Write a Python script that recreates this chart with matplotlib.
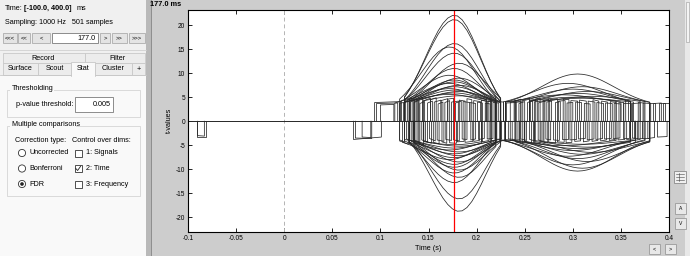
import numpy as np
import matplotlib
matplotlib.use("Agg")
import matplotlib.pyplot as plt
from matplotlib.patches import Rectangle, Circle

plt.rcParams.update({"font.family": ["Liberation Sans", "DejaVu Sans"],
                     "axes.unicode_minus": False})

# ---------------- data ----------------
cursor_time = 0.177  # s (red line)

# time course of the first component (normalized), 5 ms steps 0.110 -> 0.240 s
t1 = np.arange(110, 245, 5) / 1000.0
tmpl1 = [0.083, 0.118, 0.164, 0.223, 0.293, 0.375, 0.467, 0.566, 0.667, 0.764,
         0.852, 0.923, 0.973, 0.998, 0.994, 0.957, 0.891, 0.801, 0.696, 0.584,
         0.474, 0.371, 0.281, 0.206, 0.146, 0.100, 0.066]

# time course of the second component (normalized), 5 ms steps 0.220 -> 0.400 s
t2 = np.arange(220, 405, 5) / 1000.0
tmpl2 = [0.082, 0.109, 0.143, 0.183, 0.232, 0.287, 0.351, 0.421, 0.496, 0.575,
         0.654, 0.732, 0.806, 0.871, 0.925, 0.966, 0.991, 1.000, 0.991, 0.966,
         0.925, 0.871, 0.806, 0.732, 0.654, 0.575, 0.496, 0.421, 0.351, 0.287,
         0.232, 0.183, 0.143, 0.109, 0.082, 0.060, 0.044]

# channels of the first cluster: peak t-value, pedestal, threshold, lag (in 5 ms steps)
c1_pos_peak = [22.1, 21.2, 16.2, 15.5, 14.2, 12.1, 11.0, 9.6, 9.0, 8.6,
               8.2, 7.9, 7.5, 7.2, 6.8, 6.5, 6.2, 5.9, 5.6, 5.3]
c1_pos_ped = [0.0, 0.5, 1.0, 1.5, 1.5, 2.0, 2.0, 2.5, 2.5, 2.5,
              3.0, 3.0, 3.0, 3.0, 3.2, 3.2, 3.3, 3.3, 3.4, 3.4]
c1_pos_thr = [4.0, 4.2, 3.8, 4.5, 4.0, 4.3, 3.7, 4.1, 4.4, 3.9,
              4.2, 3.8, 4.5, 4.0, 4.3, 3.7, 4.1, 4.4, 3.9, 4.2]
c1_pos_lag = [0, 0, 0, -1, 0, 1, 0, -1, 1, 0, 0, -1, 1, 0, -1, 0, 1, 0, -1, 1]

c1_neg_peak = [-18.8, -16.2, -12.8, -11.7, -10.8, -10.2, -9.6, -9.0, -8.5,
               -8.0, -7.6, -7.2, -6.8, -6.4, -6.0, -5.6, -5.2, -4.9]
c1_neg_ped = [0.0, 0.5, 1.0, 1.5, 2.0, 2.0, 2.5, 2.5, 2.5,
              3.0, 3.0, 3.0, 3.0, 3.2, 3.2, 3.3, 3.3, 3.4]
c1_neg_thr = [4.0, 4.3, 3.8, 4.4, 4.0, 4.2, 3.7, 4.1, 4.5,
              3.9, 4.2, 3.8, 4.4, 4.0, 4.3, 3.7, 4.1, 4.2]
c1_neg_lag = [1, 1, 0, 1, 0, 1, 0, 0, 1, -1, 0, 1, 0, 1, -1, 0, 1, 0]

# channels of the second cluster
c2_pos_peak = [9.85, 7.9, 7.2, 6.7, 6.2, 5.8, 5.5, 5.2, 5.0, 4.8]
c2_pos_ped = [3.0, 3.0, 3.2, 3.2, 3.3, 3.3, 3.4, 3.4, 3.5, 3.5]
c2_pos_thr = [3.9, 4.1, 3.8, 4.2, 4.0, 4.3, 3.9, 4.1, 4.2, 4.0]
c2_pos_lag = [0, -2, 1, -1, 2, 0, -3, 3, -1, 1]

c2_neg_peak = [-10.4, -9.8, -9.1, -8.4, -7.8, -7.3, -6.9, -6.5, -6.1, -5.7,
               -5.4, -5.1, -4.8]
c2_neg_ped = [3.0, 3.0, 3.0, 3.1, 3.1, 3.2, 3.2, 3.3, 3.3, 3.4, 3.4, 3.4, 3.5]
c2_neg_thr = [3.9, 4.2, 3.8, 4.1, 4.3, 3.9, 4.0, 4.2, 3.8, 4.1, 4.3, 3.9, 4.0]
c2_neg_lag = [0, 1, -1, 2, 0, -2, 1, 3, -1, 0, 2, -3, 1]

# short significant bursts: (start ms, end ms, t at start, t at end)
early_bursts = [(-91, -81, -3.2, -3.2), (-90, -83, -3.0, -3.1),
                (72, 101, -3.8, -3.3), (74, 91, -3.5, -3.6), (81, 90, -3.3, -3.4),
                (94, 122, 3.9, 4.1), (96, 118, 3.7, 3.8), (100, 114, 3.4, 3.5)]

pos_bursts = [(121, 126, 4.2, 4.6), (124, 131, 3.8, 4.4), (128, 133, 4.5, 4.9),
              (131, 138, 4.0, 4.6), (135, 139, 3.9, 4.3), (137, 144, 4.4, 5.0),
              (141, 146, 3.7, 4.1), (144, 152, 4.2, 4.8), (149, 154, 3.8, 4.2),
              (152, 158, 4.5, 4.9), (156, 163, 4.0, 4.4), (160, 165, 3.6, 4.0),
              (163, 170, 4.3, 4.7), (167, 172, 3.9, 4.3), (170, 176, 4.6, 4.8),
              (174, 181, 4.0, 4.2), (178, 184, 3.8, 4.2), (182, 188, 4.4, 4.2),
              (186, 193, 4.1, 3.9), (190, 195, 4.7, 4.5), (193, 199, 3.9, 3.7),
              (197, 204, 4.3, 4.1), (201, 206, 4.0, 3.8), (205, 211, 4.4, 4.1),
              (209, 214, 3.8, 3.6), (212, 219, 4.2, 4.0), (217, 223, 3.9, 3.8),
              (221, 228, 4.1, 4.0), (228, 246, 4.1, 4.0), (231, 241, 3.8, 3.9),
              (235, 241, 3.9, 4.3), (239, 246, 4.2, 4.6), (244, 250, 3.7, 4.1),
              (248, 255, 4.4, 4.8), (253, 258, 3.9, 4.3), (256, 263, 4.1, 4.5),
              (261, 266, 4.6, 4.9), (264, 271, 3.8, 4.2), (269, 275, 4.3, 4.6),
              (273, 278, 4.0, 4.2), (276, 284, 4.5, 4.7), (282, 287, 3.9, 4.1),
              (285, 292, 4.2, 4.3), (290, 296, 4.6, 4.5), (294, 300, 3.8, 3.9),
              (298, 305, 4.3, 4.2), (303, 309, 4.0, 3.9), (307, 314, 4.4, 4.2),
              (312, 318, 3.7, 3.6), (316, 323, 4.2, 4.0), (321, 327, 4.5, 4.2),
              (325, 332, 3.9, 3.7), (330, 336, 4.2, 4.0), (334, 341, 3.8, 3.7),
              (339, 345, 4.1, 3.9), (343, 350, 3.7, 3.6), (348, 353, 4.0, 3.9),
              (352, 360, 3.8, 3.8), (358, 363, 4.1, 4.0), (362, 370, 3.7, 3.8),
              (368, 374, 3.9, 3.8), (373, 381, 3.8, 3.7), (379, 385, 3.9, 3.9),
              (384, 392, 3.7, 3.8), (390, 396, 3.8, 3.8), (394, 400, 3.8, 3.8)]

neg_bursts = [(120, 125, -3.9, -4.3), (123, 129, -4.4, -4.8), (127, 134, -3.7, -4.2),
              (132, 137, -4.2, -4.6), (134, 141, -3.8, -4.4), (139, 145, -4.5, -4.9),
              (143, 149, -3.9, -4.3), (147, 153, -4.2, -4.6), (151, 157, -3.6, -4.1),
              (155, 161, -4.4, -4.7), (159, 166, -3.9, -4.2), (164, 169, -4.3, -4.6),
              (168, 174, -3.8, -4.0), (172, 179, -4.5, -4.6), (176, 182, -3.9, -4.1),
              (180, 187, -4.3, -4.2), (185, 190, -3.7, -3.8), (188, 196, -4.4, -4.2),
              (194, 199, -3.9, -3.7), (197, 203, -4.2, -4.0), (202, 208, -3.8, -3.6),
              (206, 213, -4.3, -4.0), (211, 217, -3.7, -3.6), (215, 221, -4.1, -3.9),
              (219, 226, -3.8, -3.7), (224, 230, -4.0, -3.9), (229, 245, -4.0, -3.9),
              (233, 240, -3.7, -3.8), (237, 243, -3.9, -4.2), (241, 248, -4.3, -4.6),
              (246, 252, -3.7, -4.0), (250, 257, -4.2, -4.5), (255, 261, -3.8, -4.1),
              (259, 266, -4.4, -4.7), (264, 269, -3.9, -4.2), (267, 274, -4.3, -4.5),
              (272, 277, -3.7, -3.9), (275, 282, -4.4, -4.6), (280, 286, -3.9, -4.0),
              (284, 291, -4.3, -4.4), (289, 295, -3.8, -3.8), (293, 299, -4.5, -4.4),
              (297, 304, -3.9, -3.8), (302, 308, -4.2, -4.1), (306, 313, -3.7, -3.6),
              (311, 317, -4.3, -4.1), (315, 322, -3.9, -3.7), (320, 326, -4.2, -4.0),
              (324, 331, -3.8, -3.6), (329, 335, -4.1, -3.9), (333, 340, -3.7, -3.6),
              (338, 344, -4.0, -3.8), (342, 349, -3.6, -3.5), (347, 354, -3.9, -3.8),
              (352, 358, -3.6, -3.6), (356, 364, -3.8, -3.7), (362, 368, -3.5, -3.6),
              (367, 373, -3.7, -3.6), (372, 379, -3.5, -3.5), (378, 385, -3.6, -3.4),
              (388, 398, -3.3, -3.2)]

xticks = [-0.1, -0.05, 0, 0.05, 0.1, 0.15, 0.2, 0.25, 0.3, 0.35, 0.4]
xticklabels = ["-0.1", "-0.05", "0", "0.05", "0.1", "0.15", "0.2", "0.25", "0.3", "0.35", "0.4"]
yticks = [-20, -15, -10, -5, 0, 5, 10, 15, 20]

LINE = "#262626"
LW = 0.55


def plot_channel(ax, t, tmpl, peak, ped, thr, lag):
    """Thresholded trace: zero where not significant, vertical jumps at the edges."""
    sign = np.sign(peak)
    v = sign * (ped + (abs(peak) - ped) * np.asarray(tmpl))
    tt = t + lag * 0.005
    idx = np.flatnonzero(np.abs(v) >= thr)
    if len(idx) == 0:
        return
    runs = np.split(idx, np.flatnonzero(np.diff(idx) > 1) + 1)
    for r in runs:
        x = np.concatenate([[tt[r[0]]], tt[r], [tt[r[-1]]]])
        y = np.concatenate([[0], v[r], [0]])
        ax.plot(x, y, color=LINE, lw=LW)


def plot_burst(ax, b):
    t0, t1_, v0, v1 = b
    ax.plot([t0 / 1000.0, t0 / 1000.0, t1_ / 1000.0, t1_ / 1000.0], [0, v0, v1, 0],
            color=LINE, lw=LW)


# ---------------- figure ----------------
fig = plt.figure(figsize=(6.9, 2.56), dpi=100)
fig.patch.set_facecolor("#cdcdcd")

# GUI panel drawn in pixel coordinates
gui = fig.add_axes([0, 0, 1, 1])
gui.set_xlim(0, 690)
gui.set_ylim(256, 0)
gui.axis("off")

def box(x, y, w, h, fc, ec="none", lw=0.6, z=1):
    gui.add_patch(Rectangle((x, y), w, h, facecolor=fc, edgecolor=ec, lw=lw, zorder=z))

def txt(x, y, s, ha="left", size=5.2, weight="normal"):
    gui.text(x, y, s, ha=ha, va="center", fontsize=size, fontweight=weight, zorder=5)

box(0, 0, 147, 256, "#f0f0f0")
box(0, 75, 147, 181, "#f9f9f9")
box(146, 0, 5, 256, "#b9b9b9")
box(151, 0, 1, 256, "#8f8f8f")

gui.text(5, 8, "Time:", fontsize=5.2, va="center")
gui.text(24, 8, "[-100.0, 400.0]", fontsize=5.2, va="center", fontweight="bold")
gui.text(77, 8, "ms", fontsize=5.2, va="center")
txt(5, 23, "Sampling: 1000 Hz   501 samples")

# time navigation buttons
for x0, w, s in [(3, 14, "<<<"), (18, 12, "<<"), (32, 18, "<"),
                 (100, 10, ">"), (112, 15, ">>"), (129, 16, ">>>")]:
    box(x0, 33, w, 10, "#e4e4e4", "#adadad")
    txt(x0 + w / 2, 38, s, ha="center", size=4.2)
box(52, 33, 46, 10, "white", "#7a7a7a")
txt(96, 38, "177.0", ha="right")
gui.plot([0, 146], [50, 50], color="#d0d0d0", lw=0.6)

# tabs
box(3, 53, 82, 10, "#ececec", "#c8c8c8")
box(85, 53, 60, 10, "#ececec", "#c8c8c8")
txt(43, 58, "Record", ha="center")
txt(117, 58, "Filter", ha="center")
for x0, w, s in [(3, 35, "Surface"), (38, 33, "Scout"), (95, 37, "Cluster"), (132, 13, "+")]:
    box(x0, 63, w, 12, "#ececec", "#c8c8c8")
    txt(x0 + w / 2, 69, s, ha="center")
box(71, 62, 24, 14, "#f9f9f9", "#c8c8c8", z=2)
box(71.5, 74, 23, 3, "#f9f9f9", z=3)
txt(83, 68.5, "Stat", ha="center")
gui.plot([0, 71], [75, 75], color="#c8c8c8", lw=0.6)
gui.plot([95, 146], [75, 75], color="#c8c8c8", lw=0.6)

# group boxes
box(7, 90, 133, 27, "none", "#d5d5d5")
box(10, 86, 44, 6, "#f9f9f9", z=2)
txt(12, 89, "Thresholding")
txt(16, 104, "p-value threshold:")
box(75, 97, 38, 15, "white", "#7a7a7a")
txt(111, 104.5, "0.005", ha="right")

box(7, 126, 133, 70, "none", "#d5d5d5")
box(10, 122, 66, 6, "#f9f9f9", z=2)
txt(12, 125, "Multiple comparisons")
txt(15, 140, "Correction type:")
txt(72, 140, "Control over dims:")
for y0, s, on in [(153, "Uncorrected", False), (168.5, "Bonferroni", False), (184, "FDR", True)]:
    gui.add_patch(Circle((22, y0), 3.6, facecolor="white", edgecolor="#333333", lw=0.6, zorder=3))
    if on:
        gui.add_patch(Circle((22, y0), 1.8, facecolor="#222222", edgecolor="none", zorder=4))
    txt(29, y0, s)
for y0, s, on in [(153, "1: Signals", False), (168.5, "2: Time", True), (184, "3: Frequency", False)]:
    box(74.5, y0 - 3.5, 7, 7, "white", "#333333", z=3)
    if on:
        gui.plot([75.8, 77.6, 80.6], [y0, y0 + 2, y0 - 2.2], color="#222222", lw=0.6, zorder=4)
    txt(86, y0, s)

# figure header / side controls
txt(150, 4, "177.0 ms", size=5.3, weight="bold")
box(685, 0, 5, 256, "#e8e8e8")
box(686, 2, 3, 40, "#f4f4f4", "#9a9a9a", lw=0.4)
box(674, 171, 12, 12, "#f0f0f0", "#8a8a8a")
for k in range(3):
    gui.plot([676, 684], [174 + 3 * k, 174 + 3 * k], color="#444444", lw=0.4, zorder=3)
gui.plot([678.5, 678.5], [173, 181], color="#444444", lw=0.4, zorder=3)
for y0, s in [(208, "A"), (223, "V")]:
    box(675, y0 - 5, 11, 11, "#e8e8e8", "#9a9a9a")
    txt(680.5, y0 + 0.5, s, ha="center", size=3.6)
for x0, s in [(649, "<"), (665, ">")]:
    box(x0, 244, 11, 10, "#e8e8e8", "#9a9a9a")
    txt(x0 + 5.5, 249, s, ha="center", size=4)

# ---------------- plot ----------------
ax = fig.add_axes([188 / 690, (256 - 232) / 256, 481 / 690, 222.5 / 256])
ax.set_facecolor("white")

ax.axvline(0, color="#b4b4b4", lw=0.7, ls=(0, (4, 3)))
ax.plot([-0.1, 0.4], [0, 0], color=LINE, lw=0.7)

for b in early_bursts + pos_bursts + neg_bursts:
    plot_burst(ax, b)
for pk, pd, th, lg in zip(c1_pos_peak, c1_pos_ped, c1_pos_thr, c1_pos_lag):
    plot_channel(ax, t1, tmpl1, pk, pd, th, lg)
for pk, pd, th, lg in zip(c1_neg_peak, c1_neg_ped, c1_neg_thr, c1_neg_lag):
    plot_channel(ax, t1, tmpl1, pk, pd, th, lg)
for pk, pd, th, lg in zip(c2_pos_peak, c2_pos_ped, c2_pos_thr, c2_pos_lag):
    plot_channel(ax, t2, tmpl2, pk, pd, th, lg)
for pk, pd, th, lg in zip(c2_neg_peak, c2_neg_ped, c2_neg_thr, c2_neg_lag):
    plot_channel(ax, t2, tmpl2, pk, pd, th, lg)

ax.axvline(cursor_time, color="red", lw=0.9)

ax.set_xlim(-0.1, 0.4)
ax.set_ylim(-23.1, 23.3)
ax.set_xticks(xticks)
ax.set_xticklabels(xticklabels)
ax.set_yticks(yticks)
ax.tick_params(direction="in", length=3, width=0.6, labelsize=4.7, pad=2,
               top=True, right=True)
for s in ax.spines.values():
    s.set_linewidth(0.8)
ax.set_xlabel("Time (s)", fontsize=5.2, labelpad=2)
ax.set_ylabel("t-values", fontsize=5.2, labelpad=2)

fig.savefig("out.png", dpi=100, facecolor=fig.get_facecolor())
